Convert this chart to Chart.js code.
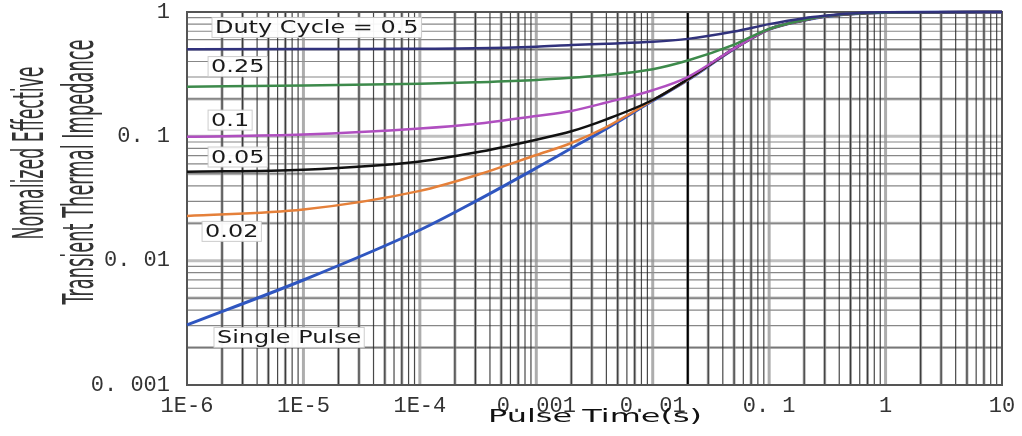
<!DOCTYPE html>
<html>
<head>
<meta charset="utf-8">
<script src="https://cdn.jsdelivr.net/npm/chart.js@4.4.1/dist/chart.umd.min.js"></script>
<style>
  html, body { margin: 0; padding: 0; background: #fff; }
  #wrap { width: 1022px; height: 436px; }
</style>
</head>
<body>
<div id="wrap"><canvas id="zth-chart" width="1022" height="436"></canvas></div>
<script>
const pulseTimes = [1e-6, 1e-5, 1e-4, 3e-4, 1e-3, 2e-3, 4e-3, 0.01, 0.02, 0.05, 0.1, 0.2, 0.3, 0.5, 1, 10];

// normalized Zth per duty cycle
const duty05  = [0.501, 0.504, 0.507, 0.510, 0.526, 0.543, 0.556, 0.576, 0.608, 0.696, 0.799, 0.892, 0.932, 0.972, 0.995, 1];
const duty025 = [0.251, 0.256, 0.2645, 0.272, 0.284, 0.296, 0.311, 0.347, 0.407, 0.547, 0.730, 0.862, 0.923, 0.967, 0.993, 1];
const duty01  = [0.0993, 0.1034, 0.1156, 0.1257, 0.1457, 0.160, 0.187, 0.235, 0.300, 0.508, 0.728, 0.860, 0.921, 0.966, 0.993, 1];
const duty005 = [0.0519, 0.0538, 0.0627, 0.074, 0.094, 0.1098, 0.137, 0.196, 0.288, 0.507, 0.727, 0.859, 0.920, 0.965, 0.993, 1];
const duty002 = [0.0229, 0.0258, 0.0364, 0.0484, 0.0707, 0.0884, 0.1189, 0.195, 0.286, 0.506, 0.726, 0.858, 0.920, 0.965, 0.993, 1];
const singlePulse = [0.00304, 0.00699, 0.01765, 0.0300, 0.0556, 0.0801, 0.1151, 0.193, 0.284, 0.505, 0.725, 0.857, 0.919, 0.965, 0.993, 1];

const curveLabels = ['Duty Cycle = 0.5', '0.25', '0.1', '0.05', '0.02', 'Single Pulse'];

const xTickValues = [1e-6, 1e-5, 1e-4, 1e-3, 1e-2, 1e-1, 1, 10];
const xTickLabels = ['1E-6', '1E-5', '1E-4', '0. 001', '0. 01', '0. 1', '1', '10'];
const yTickValues = [0.001, 0.01, 0.1, 1];
const yTickLabels = ['0. 001', '0. 01', '0. 1', '1'];

const toPoints = (vals) => pulseTimes.map((t, i) => ({ x: t, y: vals[i] }));

// squeeze/stretch text to a given width (the picture is stretched sideways)
function fitText(ctx, text, x, y, font, width, angle, align) {
    ctx.save();
    ctx.translate(x, y);
    ctx.rotate(angle || 0);
    ctx.font = font;
    const w = ctx.measureText(text).width;
    ctx.scale(width / w, 1);
    ctx.textAlign = align || 'center';
    ctx.fillText(text, 0, 0);
    ctx.restore();
}

const logGrid = {
    id: 'logGrid',
    beforeDatasetsDraw(chart) {
        const { ctx, chartArea: a, scales: { x, y } } = chart;
        const vline = (v, color, w) => {
            const px = x.getPixelForValue(v);
            ctx.strokeStyle = color; ctx.lineWidth = w;
            ctx.beginPath(); ctx.moveTo(px, a.top); ctx.lineTo(px, a.bottom); ctx.stroke();
        };
        const hline = (v, color, w) => {
            const py = y.getPixelForValue(v);
            ctx.strokeStyle = color; ctx.lineWidth = w;
            ctx.beginPath(); ctx.moveTo(a.left, py); ctx.lineTo(a.right, py); ctx.stroke();
        };
        ctx.save();
        // horizontal
        for (let e = -3; e < 0; e++) {
            for (let m = 1; m < 10; m++) {
                const v = m * Math.pow(10, e);
                if (v <= 0.001 * 1.0001) continue;
                if ([1, 2, 5].includes(m)) hline(v, 'rgba(175,175,175,0.8)', 3);
            }
        }
        for (let e = -3; e < 0; e++) {
            for (let m = 2; m < 10; m++) hline(m * Math.pow(10, e), 'rgba(95,95,95,0.75)', 1.2);
        }
        // vertical
        for (let e = -6; e < 1; e++) {
            for (let m = 1; m < 10; m++) {
                const v = m * Math.pow(10, e);
                if (v <= 1e-6 * 1.0001) continue;
                if ([1, 2, 3, 5, 7].includes(m)) vline(v, 'rgba(145,145,145,0.75)', 3);
            }
        }
        for (let e = -6; e < 1; e++) {
            for (let m = 2; m < 10; m++) vline(m * Math.pow(10, e), 'rgba(40,40,40,0.85)', 1.2);
        }
        vline(0.02, '#000', 2);
        // frame
        ctx.strokeStyle = '#555';
        ctx.lineWidth = 2;
        ctx.strokeRect(a.left, a.top, a.right - a.left, a.bottom - a.top);
        ctx.restore();
    }
};

const curveTags = {
    id: 'curveTags',
    afterDatasetsDraw(chart, args, opts) {
        const { ctx, scales: { x, y } } = chart;
        ctx.save();
        opts.anchors.forEach((p, i) => {
            const px = x.getPixelForValue(p[0]);
            const py = y.getPixelForValue(p[1]);
            ctx.font = opts.font;
            const w = ctx.measureText(curveLabels[i]).width * opts.stretch;
            ctx.fillStyle = 'rgba(255,255,255,0.95)';
            ctx.fillRect(px - 3, py - 10, w + 6, 20);
            ctx.strokeStyle = 'rgba(200,200,200,0.9)';
            ctx.lineWidth = 1;
            ctx.strokeRect(px - 3, py - 10, w + 6, 20);
            ctx.fillStyle = '#1a1a1a';
            ctx.textBaseline = 'middle';
            fitText(ctx, curveLabels[i], px, py + 1, opts.font, w, 0, 'left');
        });
        ctx.restore();
    }
};

const axisTitles = {
    id: 'axisTitles',
    afterDraw(chart) {
        const ctx = chart.ctx;
        ctx.save();
        ctx.fillStyle = '#111';
        ctx.textBaseline = 'middle';
        fitText(ctx, 'Pulse Time(s)', 595, 417, '18px "DejaVu Sans", sans-serif', 214, 0);
        ctx.fillStyle = '#333';
        ctx.textBaseline = 'alphabetic';
        const yFont = '42px "Liberation Sans Narrow", "DejaVu Sans Condensed", sans-serif';
        fitText(ctx, 'Nomalized Effective', 43, 153, yFont, 173, -Math.PI / 2);
        fitText(ctx, 'Transient Thermal Impedance', 93, 172, yFont, 265, -Math.PI / 2);
        ctx.restore();
    }
};

const ctx = document.getElementById('zth-chart').getContext('2d');
const mk = (label, data, color, width) => ({
    label, data: toPoints(data),
    borderColor: color, backgroundColor: color,
    borderWidth: width, pointRadius: 0,
    cubicInterpolationMode: 'monotone', fill: false, clip: 5
});

new Chart(ctx, {
    type: 'line',
    data: {
        datasets: [
            mk('Duty Cycle = 0.5', duty05, '#31327c', 2.5),
            mk('0.25', duty025, '#3d8a4b', 2.5),
            mk('0.1', duty01, '#b04fc0', 2.5),
            mk('0.05', duty005, '#111111', 2.5),
            mk('0.02', duty002, '#e5803a', 2.5),
            mk('Single Pulse', singlePulse, '#2f56c0', 3)
        ]
    },
    options: {
        responsive: false,
        animation: false,
        devicePixelRatio: 1,
        layout: { padding: { top: 12, right: 20, left: 0, bottom: 0 } },
        scales: {
            x: {
                type: 'logarithmic',
                min: 1e-6, max: 10,
                grid: { display: false, drawTicks: false },
                border: { display: false },
                afterBuildTicks: (s) => { s.ticks = xTickValues.map(v => ({ value: v })); },
                afterFit: (s) => { s.height = 51; s.paddingRight = 0; },
                ticks: {
                    autoSkip: false, maxRotation: 0, padding: 8,
                    color: '#333',
                    font: { family: '"Liberation Mono", monospace', size: 22 },
                    callback: (v, i) => xTickLabels[i]
                }
            },
            y: {
                type: 'logarithmic',
                min: 0.001, max: 1,
                grid: { display: false, drawTicks: false },
                border: { display: false },
                afterBuildTicks: (s) => { s.ticks = yTickValues.map(v => ({ value: v })); },
                afterFit: (s) => { s.width = 187; s.paddingTop = 0; s.paddingBottom = 0; },
                ticks: {
                    autoSkip: false, padding: 17,
                    color: '#333',
                    font: { family: '"Liberation Mono", monospace', size: 22 },
                    callback: (v, i) => yTickLabels[i]
                }
            }
        },
        plugins: {
            legend: { display: false },
            tooltip: { enabled: false },
            curveTags: {
                font: '18px "DejaVu Sans", sans-serif',
                stretch: 1.33,
                anchors: [[1.74e-6, 0.751], [1.61e-6, 0.364], [1.61e-6, 0.135], [1.61e-6, 0.0682], [1.43e-6, 0.0172], [1.81e-6, 0.00241]]
            }
        }
    },
    plugins: [logGrid, curveTags, axisTitles]
});
</script>
</body>
</html>
